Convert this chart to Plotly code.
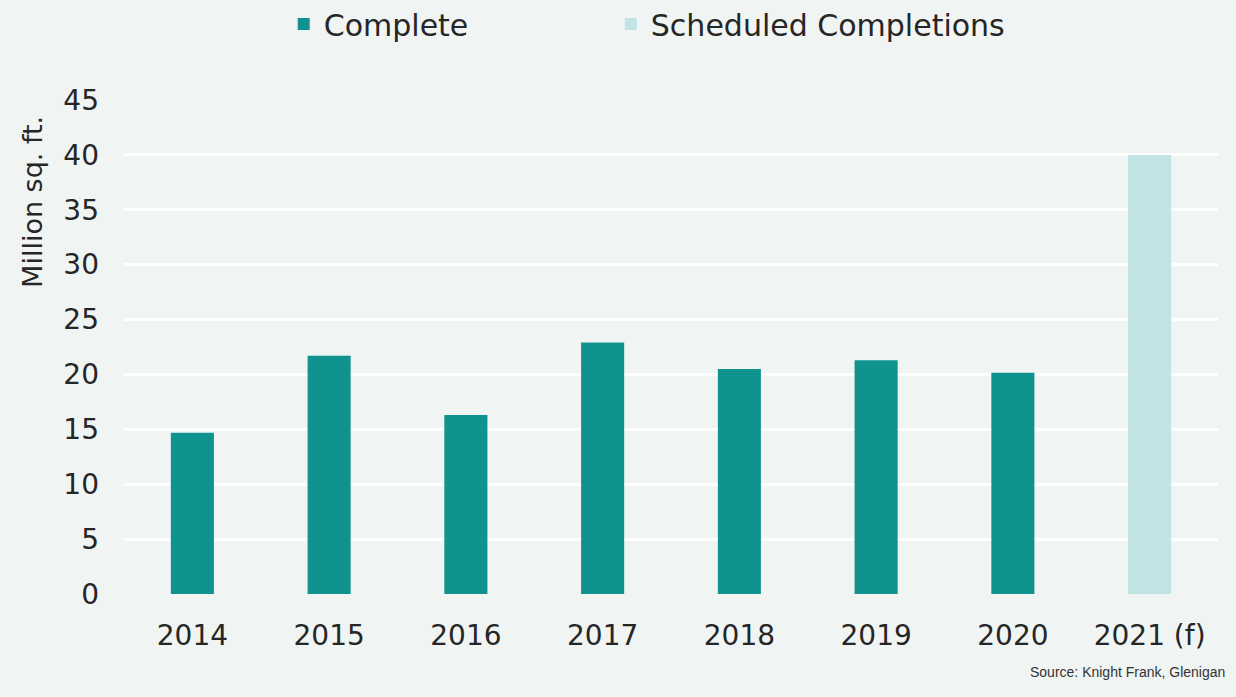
import plotly.graph_objects as go

categories = ["2014", "2015", "2016", "2017", "2018", "2019", "2020", "2021 (f)"]
complete = [14.7, 21.7, 16.3, 22.9, 20.5, 21.3, 20.15, None]
scheduled = [None, None, None, None, None, None, None, 40.0]
y_ticks = [0, 5, 10, 15, 20, 25, 30, 35, 40, 45]

FONT = "DejaVu Sans"
TXT = "#262626"

fig = go.Figure()
fig.add_trace(go.Bar(x=categories, y=complete, name="Complete", legend="legend",
                     marker=dict(color="#10938F", line=dict(width=0)), width=0.315))
fig.add_trace(go.Bar(x=categories, y=scheduled, name="Scheduled Completions", legend="legend2",
                     marker=dict(color="#C0E3E3", line=dict(width=0)), width=0.315))

leg_common = dict(orientation="h", xref="paper", yref="container",
                  xanchor="left", y=0.9656, yanchor="middle",
                  font=dict(size=30, family=FONT, color=TXT),
                  bgcolor="rgba(0,0,0,0)")

fig.update_layout(
    width=1236, height=697,
    margin=dict(l=124, r=18, t=100, b=103, autoexpand=False),
    paper_bgcolor="#F0F4F3", plot_bgcolor="#F0F4F3",
    barmode="overlay",
    font=dict(family=FONT, color=TXT, size=26),
    showlegend=True,
    legend=dict(x=0.146, **leg_common),
    legend2=dict(x=0.445, **leg_common),
    xaxis=dict(showgrid=False, showline=False, ticks="", zeroline=False,
               tickfont=dict(size=28, family=FONT, color=TXT), ticklabelstandoff=22),
    yaxis=dict(range=[0, 45], tickvals=y_ticks, showgrid=True, gridcolor="#FFFFFF",
               gridwidth=2.5, zeroline=False, showline=False, ticks="",
               tickfont=dict(size=28, family=FONT, color=TXT), ticklabelstandoff=24),
    annotations=[
        dict(text="Million sq. ft.", textangle=-90, xref="paper", yref="paper",
             x=-0.0835, y=0.793, xanchor="center", yanchor="middle", showarrow=False,
             font=dict(size=27, family=FONT, color=TXT)),
        dict(text="Source: Knight Frank, Glenigan", xref="paper", yref="paper",
             x=1.008, y=-0.157, xanchor="right", yanchor="middle", showarrow=False,
             font=dict(size=14, family="Liberation Sans", color="#333333")),
    ],
)

fig.write_html("out.html", config={"displayModeBar": False},
               post_script="document.body.style.margin='0';document.body.style.overflow='hidden';")
